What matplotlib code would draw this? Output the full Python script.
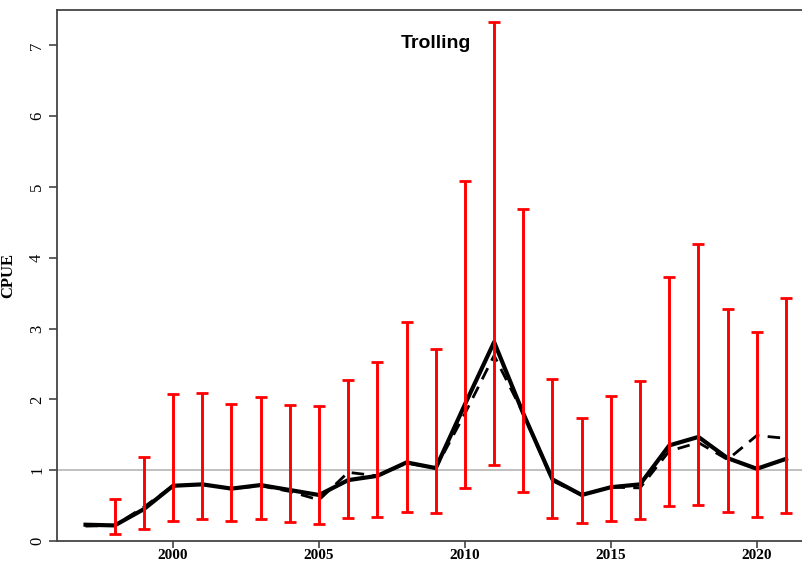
#!/usr/bin/env python
# trolling CPUE index with confidence bars
import numpy as np
import matplotlib
matplotlib.use('Agg')
import matplotlib.pyplot as plt

years = np.arange(1997, 2022)

# standardized index (solid) and nominal index (dashed)
cpue_std = [0.23, 0.22, 0.45, 0.78, 0.80, 0.74, 0.79, 0.72, 0.65, 0.86,
            0.92, 1.11, 1.03, 1.93, 2.81, 1.80, 0.87, 0.65, 0.76, 0.80,
            1.35, 1.47, 1.17, 1.02, 1.16]
cpue_nom = [0.21, 0.22, 0.48, 0.78, 0.80, 0.74, 0.78, 0.70, 0.58, 0.97,
            0.92, 1.10, 1.03, 1.80, 2.62, 1.80, 0.85, 0.65, 0.76, 0.75,
            1.27, 1.39, 1.15, 1.49, 1.45]

# 95% interval of standardized index (no bar in 1997)
ci_low = [np.nan, 0.095, 0.165, 0.287, 0.306, 0.282, 0.31, 0.263, 0.235, 0.33,
          0.343, 0.41, 0.39, 0.75, 1.07, 0.687, 0.32, 0.254, 0.282, 0.31,
          0.50, 0.51, 0.405, 0.343, 0.39]
ci_high = [np.nan, 0.59, 1.19, 2.07, 2.09, 1.94, 2.04, 1.92, 1.90, 2.27,
           2.53, 3.09, 2.71, 5.08, 7.33, 4.69, 2.29, 1.74, 2.05, 2.26,
           3.73, 4.19, 3.28, 2.945, 3.43]

serif = 'Liberation Serif'

fig = plt.figure(figsize=(8.03, 5.66), dpi=100)
ax = fig.add_axes([57.5/803, 25/566, 756.5/803, 531/566])

ax.axhline(1, color='#bbbbbb', lw=1.3, zorder=1)
ax.plot(years, cpue_nom, color='black', lw=2.0, dashes=(4.5, 3), zorder=2)
ax.plot(years, cpue_std, color='black', lw=3.0, zorder=3)

mid = np.array(cpue_std)
lo = np.array(ci_low)
hi = np.array(ci_high)
ax.errorbar(years, mid, yerr=[mid - lo, hi - mid], fmt='none',
            ecolor='red', elinewidth=2.1, capsize=4, capthick=2, zorder=4)

ax.text(2009, 7.03, 'Trolling', ha='center', va='center',
        fontsize=14, fontweight='bold', family='Liberation Sans')

ax.set_xlim(1996.04, 2021.96)
ax.set_ylim(0, 7.5)
ax.set_xticks([2000, 2005, 2010, 2015, 2020])
ax.set_yticks(range(0, 8))
ax.set_xticklabels(['2000', '2005', '2010', '2015', '2020'],
                   family=serif, fontweight='bold', fontsize=11)
ax.set_yticklabels([str(i) for i in range(8)], family=serif,
                   fontsize=12, rotation=90, va='center')
ax.set_ylabel('CPUE', family=serif, fontweight='bold', fontsize=12, labelpad=9)

ax.spines['right'].set_visible(False)
for s in ax.spines.values():
    s.set_color('#444444')
    s.set_linewidth(1.3)
ax.tick_params(direction='out', length=6, width=1.2, color='#444444', pad=3)
ax.tick_params(axis='x', length=5, pad=1)

fig.savefig('out.png', dpi=100)
